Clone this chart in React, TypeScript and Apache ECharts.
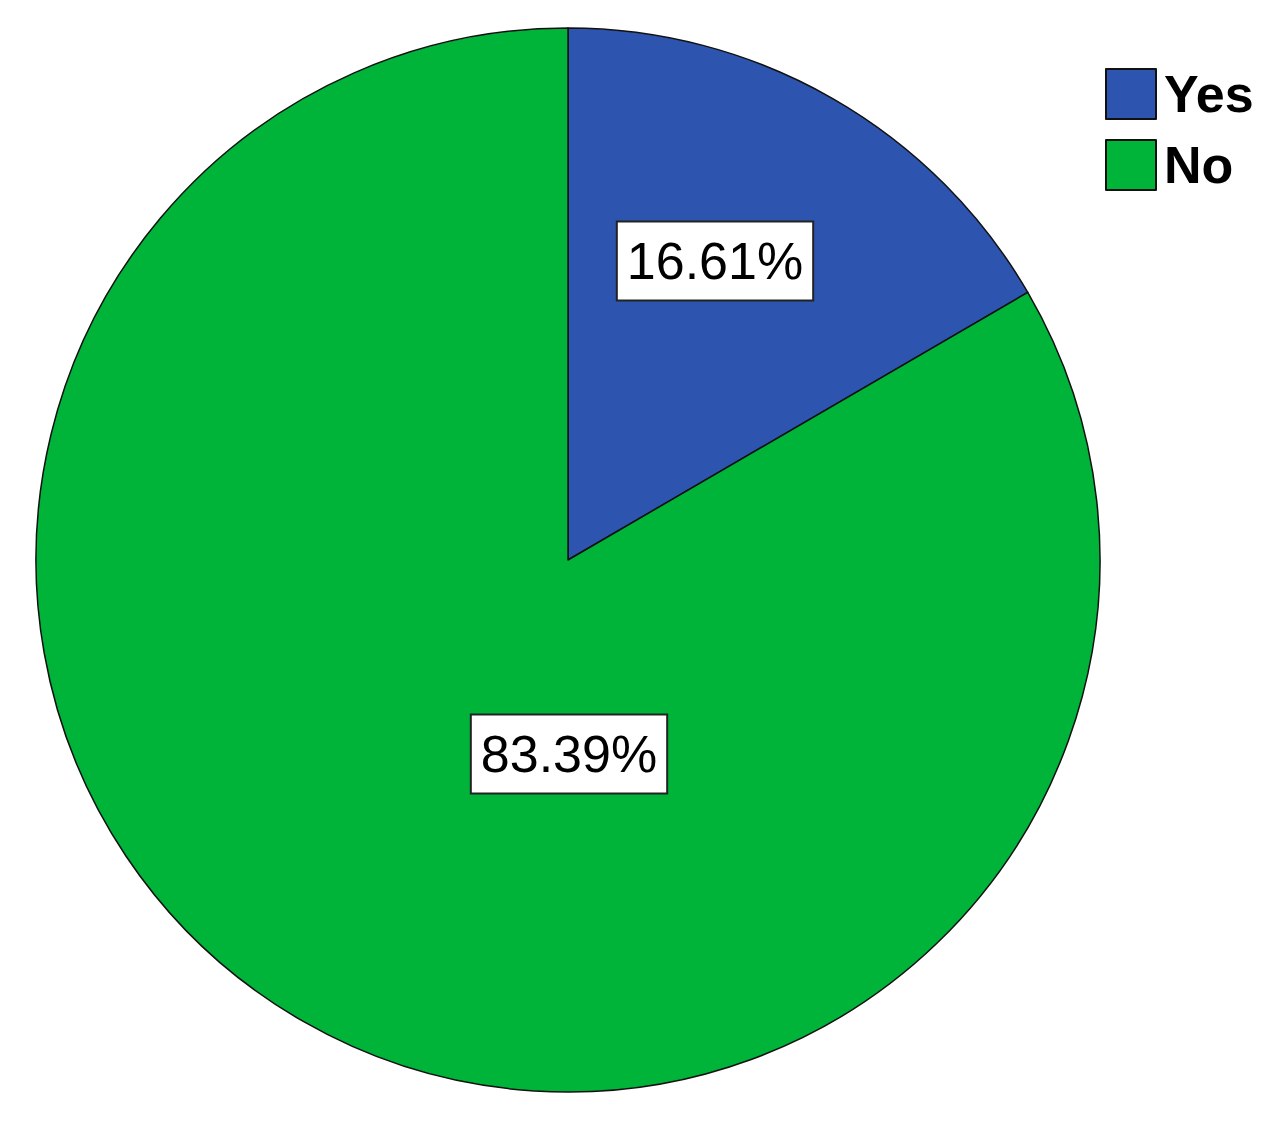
import React, { useEffect, useRef } from "react";
import * as echarts from "echarts";

const categories = ["Yes", "No"];
const values = [16.61, 83.39];
const colors = ["#2D55AF", "#00B43A"];
const labelPositions = [
  { x: 715, y: 261 },
  { x: 569, y: 754 },
];

export default function App() {
  const ref = useRef<HTMLDivElement>(null);
  useEffect(() => {
    if (!ref.current) return;
    const chart = echarts.init(ref.current, null, { renderer: "svg" });
    chart.setOption({
      animation: false,
      backgroundColor: "#ffffff",
      legend: {
        orient: "vertical",
        left: 1105,
        top: 68,
        padding: 0,
        itemWidth: 50,
        itemHeight: 50,
        itemGap: 19,
        icon: "rect",
        selectedMode: false,
        data: categories,
        textStyle: {
          fontFamily: "Liberation Sans, Arial, sans-serif",
          fontSize: 52,
          fontWeight: "bold",
          color: "#000",
          padding: [6, 0, 0, 3],
        },
      },
      series: [
        {
          type: "pie",
          center: [568, 560],
          radius: 532,
          startAngle: 90,
          clockwise: true,
          silent: true,
          itemStyle: { borderColor: "#111", borderWidth: 1.5 },
          label: {
            show: true,
            position: "inside",
            formatter: (p: any) => p.value.toFixed(2) + "%",
            fontFamily: "Liberation Sans, Arial, sans-serif",
            fontSize: 52,
            lineHeight: 56,
            color: "#000",
            backgroundColor: "#ffffff",
            borderColor: "#222",
            borderWidth: 2,
            padding: [11, 9, 10, 9],
            align: "center",
            verticalAlign: "middle",
          },
          labelLayout: (params: any) => labelPositions[params.dataIndex],
          data: categories.map((c, i) => ({
            name: c,
            value: values[i],
            itemStyle: { color: colors[i] },
          })),
        },
      ],
    });
    return () => chart.dispose();
  }, []);
  return (
    <div
      ref={ref}
      style={{ position: "fixed", left: 0, top: 0, width: 1279, height: 1129 }}
    />
  );
}
